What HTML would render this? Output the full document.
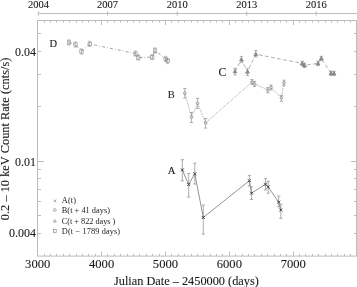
<!DOCTYPE html>
<html><head><meta charset="utf-8"><style>
html,body{margin:0;padding:0;background:#fff;width:357px;height:287px;overflow:hidden}
body{position:relative;font-family:"Liberation Serif",serif}
</style></head><body>
<svg width="357" height="287" viewBox="0 0 357 287" style="position:absolute;left:0;top:0;filter:grayscale(1)"><rect x="37.5" y="20.5" width="319.0" height="235.60000000000002" fill="none" stroke="#bcbcbc" stroke-width="1"/><path d="M44.50 256.1v-2.2M44.50 20.5v2.2M50.50 256.1v-2.2M50.50 20.5v2.2M56.50 256.1v-2.2M56.50 20.5v2.2M63.50 256.1v-2.2M63.50 20.5v2.2M69.50 256.1v-2.2M69.50 20.5v2.2M76.50 256.1v-2.2M76.50 20.5v2.2M82.50 256.1v-2.2M82.50 20.5v2.2M88.50 256.1v-2.2M88.50 20.5v2.2M95.50 256.1v-2.2M95.50 20.5v2.2M101.50 256.1v-4.5M101.50 20.5v4.5M107.50 256.1v-2.2M107.50 20.5v2.2M114.50 256.1v-2.2M114.50 20.5v2.2M120.50 256.1v-2.2M120.50 20.5v2.2M127.50 256.1v-2.2M127.50 20.5v2.2M133.50 256.1v-2.2M133.50 20.5v2.2M139.50 256.1v-2.2M139.50 20.5v2.2M146.50 256.1v-2.2M146.50 20.5v2.2M152.50 256.1v-2.2M152.50 20.5v2.2M159.50 256.1v-2.2M159.50 20.5v2.2M165.50 256.1v-4.5M165.50 20.5v4.5M171.50 256.1v-2.2M171.50 20.5v2.2M178.50 256.1v-2.2M178.50 20.5v2.2M184.50 256.1v-2.2M184.50 20.5v2.2M191.50 256.1v-2.2M191.50 20.5v2.2M197.50 256.1v-2.2M197.50 20.5v2.2M203.50 256.1v-2.2M203.50 20.5v2.2M210.50 256.1v-2.2M210.50 20.5v2.2M216.50 256.1v-2.2M216.50 20.5v2.2M222.50 256.1v-2.2M222.50 20.5v2.2M229.50 256.1v-4.5M229.50 20.5v4.5M235.50 256.1v-2.2M235.50 20.5v2.2M242.50 256.1v-2.2M242.50 20.5v2.2M248.50 256.1v-2.2M248.50 20.5v2.2M254.50 256.1v-2.2M254.50 20.5v2.2M261.50 256.1v-2.2M261.50 20.5v2.2M267.50 256.1v-2.2M267.50 20.5v2.2M274.50 256.1v-2.2M274.50 20.5v2.2M280.50 256.1v-2.2M280.50 20.5v2.2M286.50 256.1v-2.2M286.50 20.5v2.2M293.50 256.1v-4.5M293.50 20.5v4.5M299.50 256.1v-2.2M299.50 20.5v2.2M305.50 256.1v-2.2M305.50 20.5v2.2M312.50 256.1v-2.2M312.50 20.5v2.2M318.50 256.1v-2.2M318.50 20.5v2.2M325.50 256.1v-2.2M325.50 20.5v2.2M331.50 256.1v-2.2M331.50 20.5v2.2M337.50 256.1v-2.2M337.50 20.5v2.2M344.50 256.1v-2.2M344.50 20.5v2.2M350.50 256.1v-2.2M350.50 20.5v2.2M37.5 233.50h3.5M356.5 233.50h-2.5M37.5 215.50h3.5M356.5 215.50h-2.5M37.5 201.50h3.5M356.5 201.50h-2.5M37.5 189.50h3.5M356.5 189.50h-2.5M37.5 178.50h3.5M356.5 178.50h-2.5M37.5 169.50h3.5M356.5 169.50h-2.5M37.5 161.50h6.5M356.5 161.50h-5.5M37.5 106.50h3.5M356.5 106.50h-2.5M37.5 74.50h3.5M356.5 74.50h-2.5M37.5 51.50h3.5M356.5 51.50h-2.5M37.5 33.50h3.5M356.5 33.50h-2.5" stroke="#bcbcbc" stroke-width="1" fill="none"/><path d="M38 13.5H357M38.40 11.2V15.7M107.60 11.2V15.7M177.20 11.2V15.7M246.70 11.2V15.7M316.20 11.2V15.7" stroke="#bcbcbc" stroke-width="1" fill="none"/><text transform="translate(38.40 7.7) scale(0.94 1)" font-family="Liberation Serif, serif" stroke="#1a1a1a" stroke-width="0.1" font-size="11.2" text-anchor="middle" fill="#1a1a1a">2004</text><text transform="translate(107.60 7.7) scale(0.94 1)" font-family="Liberation Serif, serif" stroke="#1a1a1a" stroke-width="0.1" font-size="11.2" text-anchor="middle" fill="#1a1a1a">2007</text><text transform="translate(177.20 7.7) scale(0.94 1)" font-family="Liberation Serif, serif" stroke="#1a1a1a" stroke-width="0.1" font-size="11.2" text-anchor="middle" fill="#1a1a1a">2010</text><text transform="translate(246.70 7.7) scale(0.94 1)" font-family="Liberation Serif, serif" stroke="#1a1a1a" stroke-width="0.1" font-size="11.2" text-anchor="middle" fill="#1a1a1a">2013</text><text transform="translate(316.20 7.7) scale(0.94 1)" font-family="Liberation Serif, serif" stroke="#1a1a1a" stroke-width="0.1" font-size="11.2" text-anchor="middle" fill="#1a1a1a">2016</text><text x="37.70" y="268.4" font-family="Liberation Serif, serif" stroke="#1a1a1a" stroke-width="0.1" font-size="12.6" text-anchor="middle" fill="#1a1a1a">3000</text><text x="101.58" y="268.4" font-family="Liberation Serif, serif" stroke="#1a1a1a" stroke-width="0.1" font-size="12.6" text-anchor="middle" fill="#1a1a1a">4000</text><text x="165.46" y="268.4" font-family="Liberation Serif, serif" stroke="#1a1a1a" stroke-width="0.1" font-size="12.6" text-anchor="middle" fill="#1a1a1a">5000</text><text x="229.34" y="268.4" font-family="Liberation Serif, serif" stroke="#1a1a1a" stroke-width="0.1" font-size="12.6" text-anchor="middle" fill="#1a1a1a">6000</text><text x="293.22" y="268.4" font-family="Liberation Serif, serif" stroke="#1a1a1a" stroke-width="0.1" font-size="12.6" text-anchor="middle" fill="#1a1a1a">7000</text><text transform="translate(35.9 55.53) scale(0.95 1)" font-family="Liberation Serif, serif" stroke="#1a1a1a" stroke-width="0.1" font-size="12.6" text-anchor="end" fill="#1a1a1a">0.04</text><text transform="translate(35.9 165.70) scale(0.95 1)" font-family="Liberation Serif, serif" stroke="#1a1a1a" stroke-width="0.1" font-size="12.6" text-anchor="end" fill="#1a1a1a">0.01</text><text transform="translate(35.9 237.43) scale(0.95 1)" font-family="Liberation Serif, serif" stroke="#1a1a1a" stroke-width="0.1" font-size="12.6" text-anchor="end" fill="#1a1a1a">0.004</text><text x="114" y="285.2" font-family="Liberation Serif, serif" stroke="#1a1a1a" stroke-width="0.1" font-size="12.3" fill="#1a1a1a">Julian Date &#8211; 2450000 (days)</text><text transform="translate(8.5 220.2) rotate(-90)" x="0" y="0" font-family="Liberation Serif, serif" stroke="#1a1a1a" stroke-width="0.1" font-size="12.4" fill="#1a1a1a">0.2 &#8211; 10 keV Count Rate (cnts/s)</text><text transform="translate(49.4 46.7) scale(0.93 1)" font-family="Liberation Serif, serif" stroke="#1a1a1a" stroke-width="0.1" font-size="11.3" fill="#1a1a1a">D</text><text transform="translate(218.6 75.8) scale(1.0 1)" font-family="Liberation Serif, serif" stroke="#1a1a1a" stroke-width="0.1" font-size="11.6" fill="#1a1a1a">C</text><text transform="translate(167.8 98.0) scale(0.97 1)" font-family="Liberation Serif, serif" stroke="#1a1a1a" stroke-width="0.1" font-size="10.8" fill="#1a1a1a">B</text><text transform="translate(167.8 174.0) scale(1.05 1)" font-family="Liberation Serif, serif" stroke="#1a1a1a" stroke-width="0.1" font-size="10.2" fill="#1a1a1a">A</text><path d="M182.3 169.9 L188.7 184.5 L194.8 173.8 L203.3 217.5 L249.4 180.7 L251.5 193.2 L265.5 184.2 L268.2 187.0 L278.7 202.2 L280.8 210.0" stroke="#777" stroke-width="0.8" fill="none"/><path d="M184.8 93.1 L191.5 117.1 L197.6 103.2 L205.6 123.0 L252.0 82.0 L254.6 84.0 L267.8 90.1 L271.0 87.5 L281.4 97.8 L284.0 82.8" stroke="#808080" stroke-width="0.8" stroke-dasharray="0.8 1.0" fill="none"/><path d="M235.0 71.4 L241.4 59.6 L247.5 71.8 L255.8 54.2 L302.2 63.4 L304.5 65.3 L318.0 63.4 L321.3 58.4 L331.0 73.2 L334.0 73.4" stroke="#8c8c8c" stroke-width="0.7" stroke-dasharray="3.8 2.4" fill="none"/><path d="M68.9 42.5 L75.5 44.5 L81.5 51.5 L89.7 43.9 L135.5 53.6 L138.3 57.5 L152.3 57.1 L155.1 50.5 L165.6 58.9 L167.7 61.0" stroke="#888" stroke-width="0.8" stroke-dasharray="3 2 0.8 2.2" fill="none"/><path d="M182.3 159.7V180.9M180.7 159.7h3.3M180.7 180.9h3.3M188.7 173.5V197.0M187.0 173.5h3.3M187.0 197.0h3.3M194.8 163.2V184.0M193.2 163.2h3.3M193.2 184.0h3.3M203.3 205.0V234.1M201.7 205.0h3.3M201.7 234.1h3.3M249.4 175.5V185.9M247.8 175.5h3.3M247.8 185.9h3.3M251.5 187.0V199.5M249.8 187.0h3.3M249.8 199.5h3.3M265.5 178.6V190.0M263.9 178.6h3.3M263.9 190.0h3.3M268.2 181.3V193.2M266.6 181.3h3.3M266.6 193.2h3.3M278.7 196.0V206.8M277.1 196.0h3.3M277.1 206.8h3.3M280.8 204.7V218.3M279.2 204.7h3.3M279.2 218.3h3.3" stroke="#8c8c8c" stroke-width="0.7" fill="none"/><path d="M184.8 88.5V98.1M183.2 88.5h3.3M183.2 98.1h3.3M191.5 112.5V122.5M189.8 112.5h3.3M189.8 122.5h3.3M197.6 98.4V108.4M195.9 98.4h3.3M195.9 108.4h3.3M205.6 118.5V128.1M203.9 118.5h3.3M203.9 128.1h3.3M252.0 79.5V84.6M250.3 79.5h3.3M250.3 84.6h3.3M254.6 81.4V86.5M252.9 81.4h3.3M252.9 86.5h3.3M267.8 87.6V92.7M266.2 87.6h3.3M266.2 92.7h3.3M271.0 85.0V90.0M269.4 85.0h3.3M269.4 90.0h3.3M281.4 95.3V101.3M279.8 95.3h3.3M279.8 101.3h3.3M284.0 80.2V85.6M282.4 80.2h3.3M282.4 85.6h3.3" stroke="#929292" stroke-width="0.7" fill="none"/><path d="M235.0 68.2V75.0M233.3 68.2h3.3M233.3 75.0h3.3M241.4 56.4V62.7M239.8 56.4h3.3M239.8 62.7h3.3M247.5 68.6V75.6M245.8 68.6h3.3M245.8 75.6h3.3M255.8 50.5V57.0M254.2 50.5h3.3M254.2 57.0h3.3M302.2 61.2V65.6M300.6 61.2h3.3M300.6 65.6h3.3M304.5 63.1V67.5M302.9 63.1h3.3M302.9 67.5h3.3M318.0 61.2V65.6M316.4 61.2h3.3M316.4 65.6h3.3M321.3 56.3V60.6M319.7 56.3h3.3M319.7 60.6h3.3M331.0 71.1V75.4M329.4 71.1h3.3M329.4 75.4h3.3M334.0 71.2V75.6M332.4 71.2h3.3M332.4 75.6h3.3" stroke="#929292" stroke-width="0.7" fill="none"/><path d="M68.9 39.9V45.1M67.2 39.9h3.3M67.2 45.1h3.3M75.5 41.9V47.1M73.8 41.9h3.3M73.8 47.1h3.3M81.5 48.9V54.1M79.8 48.9h3.3M79.8 54.1h3.3M89.7 41.3V46.5M88.0 41.3h3.3M88.0 46.5h3.3M135.5 51.0V56.2M133.8 51.0h3.3M133.8 56.2h3.3M138.3 54.9V60.1M136.7 54.9h3.3M136.7 60.1h3.3M152.3 54.5V59.7M150.7 54.5h3.3M150.7 59.7h3.3M155.1 47.9V53.1M153.4 47.9h3.3M153.4 53.1h3.3M165.6 56.3V61.5M163.9 56.3h3.3M163.9 61.5h3.3M167.7 58.4V63.6M166.0 58.4h3.3M166.0 63.6h3.3" stroke="#9a9a9a" stroke-width="0.6" fill="none"/><path d="M180.8 168.4l3 3M180.8 171.4l3 -3" stroke="#333" stroke-width="0.9"/><path d="M187.2 183.0l3 3M187.2 186.0l3 -3" stroke="#333" stroke-width="0.9"/><path d="M193.3 172.3l3 3M193.3 175.3l3 -3" stroke="#333" stroke-width="0.9"/><path d="M201.8 216.0l3 3M201.8 219.0l3 -3" stroke="#333" stroke-width="0.9"/><path d="M247.9 179.2l3 3M247.9 182.2l3 -3" stroke="#333" stroke-width="0.9"/><path d="M250.0 191.7l3 3M250.0 194.7l3 -3" stroke="#333" stroke-width="0.9"/><path d="M264.0 182.7l3 3M264.0 185.7l3 -3" stroke="#333" stroke-width="0.9"/><path d="M266.7 185.5l3 3M266.7 188.5l3 -3" stroke="#333" stroke-width="0.9"/><path d="M277.2 200.7l3 3M277.2 203.7l3 -3" stroke="#333" stroke-width="0.9"/><path d="M279.3 208.5l3 3M279.3 211.5l3 -3" stroke="#333" stroke-width="0.9"/><circle cx="184.8" cy="93.1" r="1.35" fill="#fff" fill-opacity="0.5" stroke="#707070" stroke-width="0.6"/><circle cx="191.5" cy="117.1" r="1.35" fill="#fff" fill-opacity="0.5" stroke="#707070" stroke-width="0.6"/><circle cx="197.6" cy="103.2" r="1.35" fill="#fff" fill-opacity="0.5" stroke="#707070" stroke-width="0.6"/><circle cx="205.6" cy="123" r="1.35" fill="#fff" fill-opacity="0.5" stroke="#707070" stroke-width="0.6"/><circle cx="252" cy="82" r="1.35" fill="#fff" fill-opacity="0.5" stroke="#707070" stroke-width="0.6"/><circle cx="254.6" cy="84" r="1.35" fill="#fff" fill-opacity="0.5" stroke="#707070" stroke-width="0.6"/><circle cx="267.8" cy="90.1" r="1.35" fill="#fff" fill-opacity="0.5" stroke="#707070" stroke-width="0.6"/><circle cx="271" cy="87.5" r="1.35" fill="#fff" fill-opacity="0.5" stroke="#707070" stroke-width="0.6"/><circle cx="281.4" cy="97.8" r="1.35" fill="#fff" fill-opacity="0.5" stroke="#707070" stroke-width="0.6"/><circle cx="284" cy="82.8" r="1.35" fill="#fff" fill-opacity="0.5" stroke="#707070" stroke-width="0.6"/><path d="M235.0 69.5L236.9 72.8H233.1Z" fill="#9a9a9a" stroke="#666" stroke-width="0.6"/><path d="M241.4 57.7L243.3 61.0H239.5Z" fill="#9a9a9a" stroke="#666" stroke-width="0.6"/><path d="M247.5 69.9L249.4 73.2H245.6Z" fill="#9a9a9a" stroke="#666" stroke-width="0.6"/><path d="M255.8 52.3L257.7 55.6H253.9Z" fill="#9a9a9a" stroke="#666" stroke-width="0.6"/><path d="M302.2 61.5L304.1 64.8H300.3Z" fill="#9a9a9a" stroke="#666" stroke-width="0.6"/><path d="M304.5 63.4L306.4 66.7H302.6Z" fill="#9a9a9a" stroke="#666" stroke-width="0.6"/><path d="M318.0 61.5L319.9 64.8H316.1Z" fill="#9a9a9a" stroke="#666" stroke-width="0.6"/><path d="M321.3 56.5L323.2 59.8H319.4Z" fill="#9a9a9a" stroke="#666" stroke-width="0.6"/><path d="M331.0 71.3L332.9 74.6H329.1Z" fill="#9a9a9a" stroke="#666" stroke-width="0.6"/><path d="M334.0 71.5L335.9 74.8H332.1Z" fill="#9a9a9a" stroke="#666" stroke-width="0.6"/><rect x="67.25" y="40.85" width="3.3" height="3.3" fill="none" stroke="#858585" stroke-width="0.6"/><rect x="73.85" y="42.85" width="3.3" height="3.3" fill="none" stroke="#858585" stroke-width="0.6"/><rect x="79.85" y="49.85" width="3.3" height="3.3" fill="none" stroke="#858585" stroke-width="0.6"/><rect x="88.05" y="42.25" width="3.3" height="3.3" fill="none" stroke="#858585" stroke-width="0.6"/><rect x="133.85" y="51.95" width="3.3" height="3.3" fill="none" stroke="#858585" stroke-width="0.6"/><rect x="136.65" y="55.85" width="3.3" height="3.3" fill="none" stroke="#858585" stroke-width="0.6"/><rect x="150.65" y="55.45" width="3.3" height="3.3" fill="none" stroke="#858585" stroke-width="0.6"/><rect x="153.45" y="48.85" width="3.3" height="3.3" fill="none" stroke="#858585" stroke-width="0.6"/><rect x="163.95" y="57.25" width="3.3" height="3.3" fill="none" stroke="#858585" stroke-width="0.6"/><rect x="166.05" y="59.35" width="3.3" height="3.3" fill="none" stroke="#858585" stroke-width="0.6"/><path d="M53.5 199.6l2.6 2.6M53.5 202.2l2.6 -2.6" stroke="#808080" stroke-width="0.7"/><circle cx="54.8" cy="210" r="1.4" fill="#fff" stroke="#8a8a8a" stroke-width="0.7"/><path d="M54.8 219.5L56.3 222.1H53.3Z" fill="#fff" stroke="#8a8a8a" stroke-width="0.7"/><rect x="53.4" y="229.6" width="2.8" height="2.8" fill="#fff" stroke="#8a8a8a" stroke-width="0.7"/><text x="61.8" y="202.7" textLength="14.3" font-family="Liberation Serif, serif" font-size="8.3" fill="#222">A(t)</text><text x="61.8" y="212.8" textLength="48.1" font-family="Liberation Serif, serif" font-size="8.3" fill="#222">B(t + 41 days)</text><text x="61.8" y="223.8" textLength="53.5" font-family="Liberation Serif, serif" font-size="8.3" fill="#222">C(t + 822 days )</text><text x="61.8" y="233.7" textLength="58.3" font-family="Liberation Serif, serif" font-size="8.3" fill="#222">D(t &#8722; 1789 days)</text></svg>
</body></html>
